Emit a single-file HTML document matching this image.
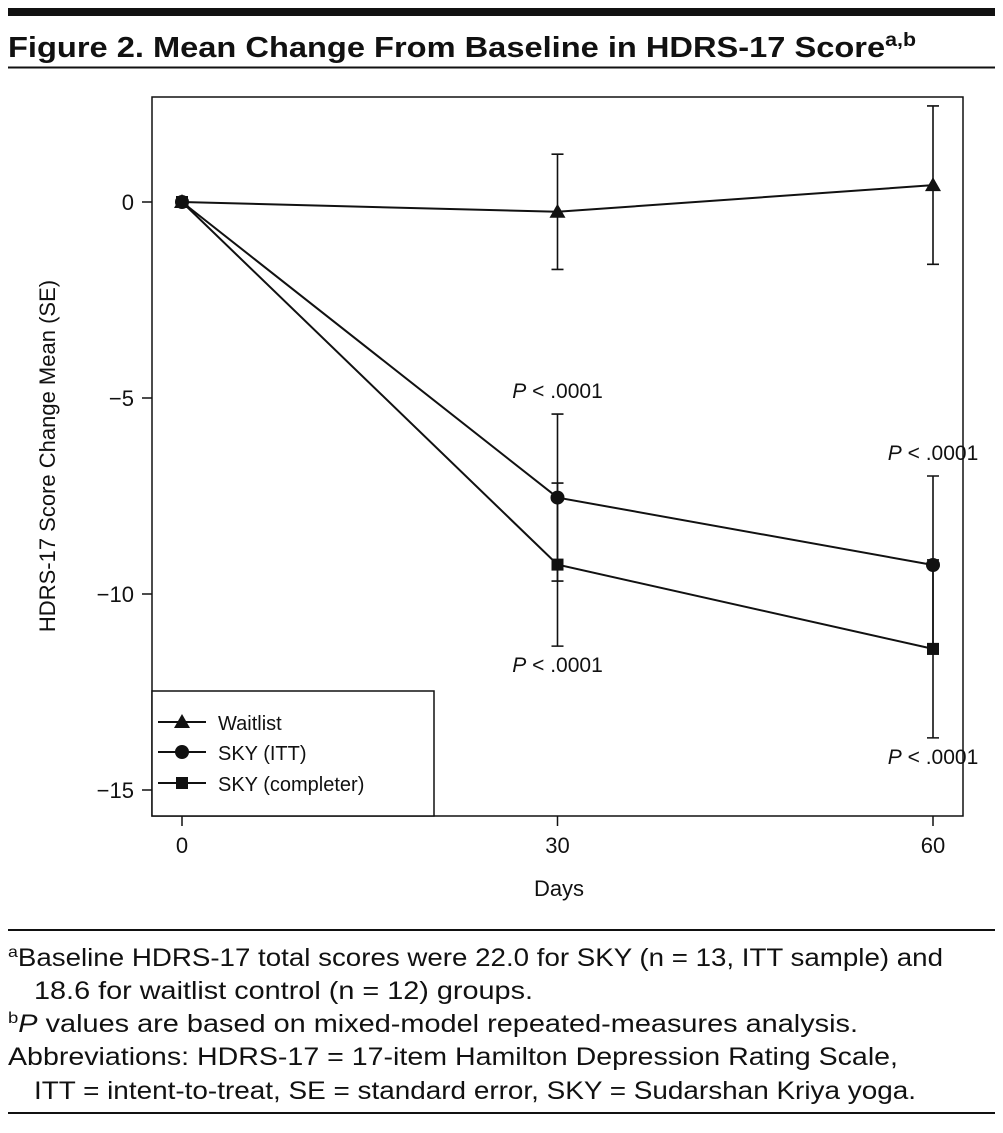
<!DOCTYPE html>
<html><head><meta charset="utf-8"><style>
body{margin:0;background:#fff}
svg{display:block}
text{font-family:"Liberation Sans",sans-serif;fill:#111}
.fn{font-family:"Liberation Sans Narrow","Liberation Sans",sans-serif;font-size:25px}
</style></head><body>
<svg id="chart" width="1003" height="1133" viewBox="0 0 1003 1133">
<rect x="8" y="8" width="987" height="8" fill="#111"/>
<text x="8" y="57" font-size="29" font-weight="bold" textLength="908" lengthAdjust="spacingAndGlyphs">Figure 2. Mean Change From Baseline in HDRS-17 Score<tspan font-size="19" dy="-11">a,b</tspan></text>
<line x1="8" y1="67.5" x2="995" y2="67.5" stroke="#111" stroke-width="2"/>
<rect x="152" y="97" width="811" height="719" fill="none" stroke="#111" stroke-width="1.5"/>
<g id="axes"></g>
<g id="marks"></g>
<text x="559" y="896" font-size="22" text-anchor="middle">Days</text>
<text transform="translate(55,456) rotate(-90)" font-size="22" text-anchor="middle">HDRS-17 Score Change Mean (SE)</text>
<g>
<rect x="152" y="691" width="282" height="125" fill="#fff" stroke="#111" stroke-width="1.5"/>
<line x1="158" y1="722" x2="206" y2="722" stroke="#111" stroke-width="2"/><polygon points="182,714 190,728 174,728" fill="#111"/>
<text x="218" y="730" font-size="20">Waitlist</text>
<line x1="158" y1="752" x2="206" y2="752" stroke="#111" stroke-width="2"/><circle cx="182" cy="752" r="7" fill="#111"/>
<text x="218" y="760" font-size="20">SKY (ITT)</text>
<line x1="158" y1="783" x2="206" y2="783" stroke="#111" stroke-width="2"/><rect x="176" y="777" width="12" height="12" fill="#111"/>
<text x="218" y="791" font-size="20">SKY (completer)</text>
</g>
<line x1="8" y1="930" x2="995" y2="930" stroke="#111" stroke-width="2"/>
<g>
<text class="fn" x="8" y="966" textLength="935" lengthAdjust="spacingAndGlyphs"><tspan font-size="16" dy="-9">a</tspan><tspan dy="9">Baseline HDRS-17 total scores were 22.0 for SKY (n = 13, ITT sample) and</tspan></text>
<text class="fn" x="34" y="999" textLength="499" lengthAdjust="spacingAndGlyphs">18.6 for waitlist control (n = 12) groups.</text>
<text class="fn" x="8" y="1032" textLength="850" lengthAdjust="spacingAndGlyphs"><tspan font-size="16" dy="-9">b</tspan><tspan dy="9" font-style="italic">P</tspan> values are based on mixed-model repeated-measures analysis.</text>
<text class="fn" x="8" y="1065" textLength="890" lengthAdjust="spacingAndGlyphs">Abbreviations: HDRS-17 = 17-item Hamilton Depression Rating Scale,</text>
<text class="fn" x="34" y="1099" textLength="882" lengthAdjust="spacingAndGlyphs">ITT = intent-to-treat, SE = standard error, SKY = Sudarshan Kriya yoga.</text>
</g>
<line x1="8" y1="1113" x2="995" y2="1113" stroke="#111" stroke-width="2"/>
</svg>
<script>
const days=[0,30,60];
const yTicks=[0,-5,-10,-15];
const yTickLabels=["0","\u22125","\u221210","\u221215"];
const waitMean=[0,-0.25,0.43];
const waitSE=[0,1.47,2.02];
const ittMean=[0,-7.54,-9.26];
const ittSE=[0,2.13,2.27];
const compMean=[0,-9.25,-11.4];
const compSE=[0,2.08,2.27];
const pLabels=["P < .0001","P < .0001","P < .0001","P < .0001"];
const NS='http://www.w3.org/2000/svg';
const xS=d=>182+d*(933-182)/60;
const yS=v=>202-v*39.2;
function mk(tag,attrs,parent){const e=document.createElementNS(NS,tag);for(const k in attrs)e.setAttribute(k,attrs[k]);parent.appendChild(e);return e;}
const axes=document.getElementById('axes'),marks=document.getElementById('marks');
yTicks.forEach((t,i)=>{
 const l=mk('line',{x1:142,x2:152,y1:yS(t),y2:yS(t),stroke:'#111','stroke-width':1.5},axes);
 
 
 const tx=mk('text',{x:134,y:yS(t)+8,'font-size':22,'text-anchor':'end'},axes);
 tx.textContent=yTickLabels[i];
 
 
});
days.forEach(d=>{
 const l=mk('line',{x1:xS(d),x2:xS(d),y1:816,y2:826,stroke:'#111','stroke-width':1.5},axes);
 
 
 const tx=mk('text',{x:xS(d),y:853,'font-size':22,'text-anchor':'middle'},axes);
 tx.textContent=String(d);
 
 
});
function series(mean,se,name,marker){
 const g=mk('g',{},marks);
 
 
 days.forEach((d,i)=>{if(se[i]>0){
  const x=xS(d),y1=yS(mean[i]+se[i]),y2=yS(mean[i]-se[i]);
  const eb=mk('path',{d:`M${x},${y1}V${y2}M${x-6},${y1}H${x+6}M${x-6},${y2}H${x+6}`,stroke:'#111','stroke-width':1.6,fill:'none'},g);
  
  
 }});
 const ln=mk('polyline',{points:days.map((d,i)=>xS(d)+','+yS(mean[i])).join(' '),fill:'none',stroke:'#111','stroke-width':2},g);
 
 
 days.forEach((d,i)=>{
  const x=xS(d),y=yS(mean[i]);let m;
  if(marker==='tri')m=mk('polygon',{points:`${x},${y-8} ${x+8},${y+6} ${x-8},${y+6}`,fill:'#111'},g);
  else if(marker==='circ')m=mk('circle',{cx:x,cy:y,r:7,fill:'#111'},g);
  else m=mk('rect',{x:x-6,y:y-6,width:12,height:12,fill:'#111'},g);
  
  
 });
}
series(compMean,compSE,'sky-completer','sq');
series(ittMean,ittSE,'sky-itt','circ');
series(waitMean,waitSE,'waitlist','tri');
const pPos=[[1,ittMean[1]+ittSE[1],-16],[1,compMean[1]-compSE[1],26],[2,ittMean[2]+ittSE[2],-16],[2,compMean[2]-compSE[2],26]];
pPos.forEach((p,i)=>{
 const t=mk('text',{x:xS(days[p[0]]),y:yS(p[1])+p[2],'font-size':21,'text-anchor':'middle'},marks);
 t.innerHTML='<tspan font-style="italic">P</tspan>'+pLabels[i].slice(1);
 
 
});
</script>
</body></html>
